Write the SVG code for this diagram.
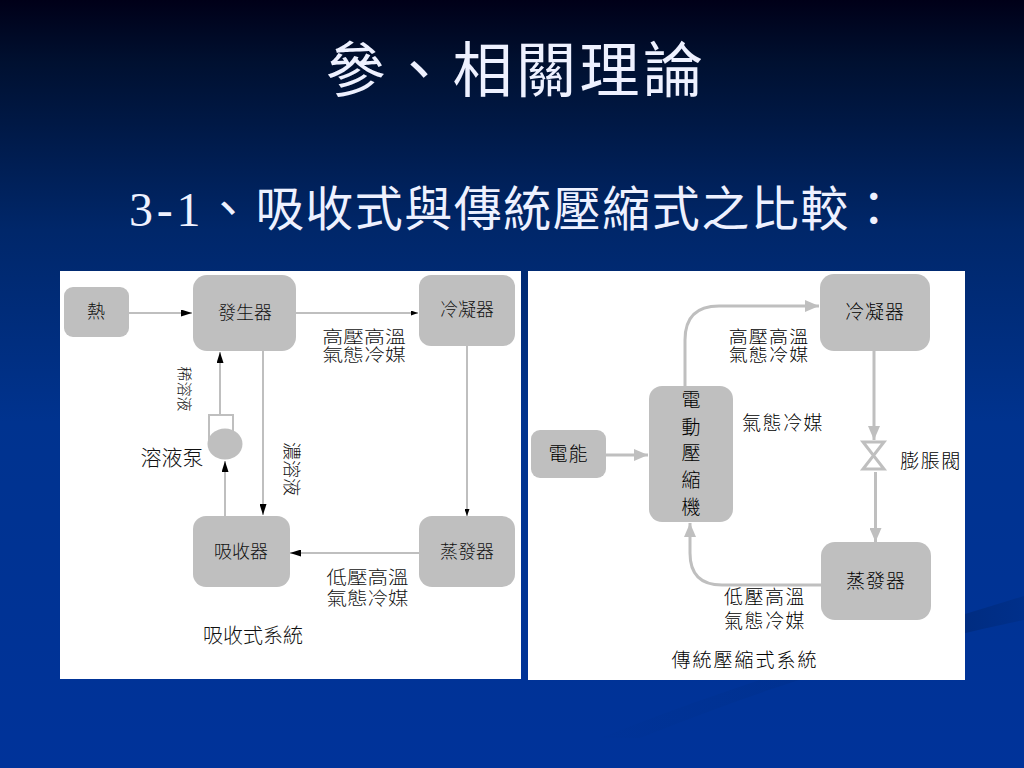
<svg xmlns="http://www.w3.org/2000/svg" width="1024" height="768" viewBox="0 0 1024 768">
<defs>
<linearGradient id="bg" x1="0" y1="0" x2="0" y2="1"><stop offset="0" stop-color="#000018"/><stop offset="0.08" stop-color="#001030"/><stop offset="0.3" stop-color="#00276a"/><stop offset="0.55" stop-color="#00338f"/><stop offset="1" stop-color="#00339a"/></linearGradient>
<linearGradient id="sw" gradientUnits="userSpaceOnUse" x1="580" y1="0" x2="1024" y2="0"><stop offset="0" stop-color="#002c80" stop-opacity="0"/><stop offset="0.45" stop-color="#002c80" stop-opacity="0.25"/><stop offset="0.85" stop-color="#002c80" stop-opacity="1"/><stop offset="1" stop-color="#002c80" stop-opacity="0.5"/></linearGradient>
<marker id="blk" viewBox="0 0 11 7" refX="11" refY="3.5" markerUnits="userSpaceOnUse" markerWidth="11" markerHeight="7" orient="auto"><path d="M0 0L11 3.5L0 7Z" fill="#000"/></marker>
<marker id="blks" viewBox="0 0 7 5" refX="7" refY="2.5" markerUnits="userSpaceOnUse" markerWidth="7" markerHeight="5" orient="auto"><path d="M0 0L7 2.5L0 5Z" fill="#000"/></marker>
<marker id="gry" viewBox="0 0 14 12" refX="14" refY="6" markerUnits="userSpaceOnUse" markerWidth="14" markerHeight="12" orient="auto"><path d="M0 0L14 6L0 12Z" fill="#bfbfbf"/></marker>
</defs>
<style>
.hd{font-family:"Liberation Serif","Noto Sans CJK TC",serif;fill:#eef1ff}
.t{font-family:"Noto Sans CJK TC",sans-serif;font-weight:300;fill:#111;text-anchor:middle}
.k{fill:#000}
.n{fill:#bfbfbf}
.c{fill:none;stroke:#bfbfbf;stroke-width:2}
.c2{fill:none;stroke:#bfbfbf;stroke-width:3}
</style>
<rect width="1024" height="768" fill="url(#bg)"/>
<path d="M600 738C720 690 880 640 1024 596V620C880 650 760 690 640 738Z" fill="url(#sw)"/>
<text class="hd" x="516" y="92" font-size="60" text-anchor="middle" letter-spacing="3.5">參、相關理論</text>
<text class="hd" x="129" y="226" font-size="48"><tspan letter-spacing="3.7">3-1、</tspan><tspan letter-spacing="1.5">吸收式與傳統壓縮式之比較：</tspan></text>
<rect x="60" y="271" width="461" height="408" fill="#fff"/>
<rect x="528" y="271" width="437" height="409" fill="#fff"/>
<g id="connectors">
<path class="c" d="M129 313H192" marker-end="url(#blk)"/>
<path class="c" d="M296 313H418" marker-end="url(#blks)"/>
<path class="c" d="M467 346V516" marker-end="url(#blks)"/>
<path class="c" d="M419 553H290" marker-end="url(#blk)"/>
<path class="c" d="M263 351V515" marker-end="url(#blk)"/>
<path class="c" d="M225 516V461" marker-end="url(#blk)"/>
<path class="c" d="M220 415V352" marker-end="url(#blk)"/>
<path class="c" d="M209 440V415H233V440"/>
<path class="c2" d="M605 455H648" marker-end="url(#gry)"/>
<path class="c2" d="M685 386V340Q685 306 719 306H819" marker-end="url(#gry)"/>
<path class="c2" d="M874 350V440" marker-end="url(#gry)"/>
<path class="c2" d="M875.500 472V542" marker-end="url(#gry)"/>
<path class="c2" d="M821 585H722Q690 585 690 553V523" marker-end="url(#gry)"/>
<path class="c2" d="M863 442H884L863 469H884Z"/>
</g>
<g id="heat"><rect class="n" x="64" y="287" width="65" height="50" rx="9"/><text class="t" x="96" y="318" font-size="18">熱</text></g>
<g id="generator"><rect class="n" x="193" y="275" width="103" height="76" rx="14"/><text class="t" x="245" y="319" font-size="18">發生器</text></g>
<g id="condenser1"><rect class="n" x="419" y="275" width="96" height="71" rx="12"/><text class="t" x="467" y="316" font-size="18">冷凝器</text></g>
<g id="pump"><ellipse class="n" cx="225" cy="444" rx="17.500" ry="15.500"/></g>
<g id="absorber"><rect class="n" x="193" y="516" width="97" height="71" rx="13"/><text class="t" x="241" y="558" font-size="18">吸收器</text></g>
<g id="evaporator1"><rect class="n" x="419" y="516" width="96" height="71" rx="13"/><text class="t" x="467" y="558" font-size="18">蒸發器</text></g>
<g id="labels1">
<text class="t" font-size="17" transform="translate(364 343) scale(1.23 1)"><tspan x="0" y="0">高壓高溫</tspan><tspan x="0" y="17.500">氣態冷媒</tspan></text>
<text class="t" x="172" y="465" font-size="21">溶液泵</text>
<text class="t" font-size="18" transform="translate(367.500 584) scale(1.14 1)"><tspan x="0" y="0">低壓高溫</tspan><tspan x="0" y="21.500">氣態冷媒</tspan></text>
<text class="t" x="253" y="643" font-size="20">吸收式系統</text>
<text class="t" font-size="15" transform="translate(179 389) rotate(90)">稀溶液</text>
<text class="t" font-size="18" transform="translate(285 469) rotate(90)">濃溶液</text>
</g>
<g id="electric"><rect class="n" x="531" y="430" width="75" height="48" rx="9"/><text class="t k" x="568.500" y="461" font-size="19" letter-spacing="1">電能</text></g>
<g id="compressor"><rect class="n" x="649" y="386" width="84" height="136" rx="13"/>
<text class="t k" x="691" y="407" font-size="19">電</text><text class="t k" x="691" y="434" font-size="19">動</text><text class="t k" x="691" y="460" font-size="19">壓</text><text class="t k" x="691" y="487" font-size="19">縮</text><text class="t k" x="691" y="514" font-size="19">機</text></g>
<g id="condenser2"><rect class="n" x="820" y="274" width="110" height="77" rx="14"/><text class="t k" x="875" y="319" font-size="19" letter-spacing="1">冷凝器</text></g>
<g id="evaporator2"><rect class="n" x="821" y="542" width="110" height="78" rx="14"/><text class="t k" x="876" y="588" font-size="19" letter-spacing="1">蒸發器</text></g>
<g id="labels2">
<text class="t k" font-size="17" letter-spacing="1" transform="translate(769 343) scale(1.12 1)"><tspan x="0" y="0">高壓高溫</tspan><tspan x="0" y="17.500">氣態冷媒</tspan></text>
<text class="t k" x="783" y="430" font-size="19" letter-spacing="1.500">氣態冷媒</text>
<text class="t k" x="931" y="468" font-size="19" letter-spacing="1.500">膨脹閥</text>
<text class="t k" font-size="19" letter-spacing="1.500"><tspan x="765" y="604">低壓高溫</tspan><tspan x="765" y="628">氣態冷媒</tspan></text>
<text class="t k" x="745" y="667" font-size="19" letter-spacing="2">傳統壓縮式系統</text>
</g>
</svg>
